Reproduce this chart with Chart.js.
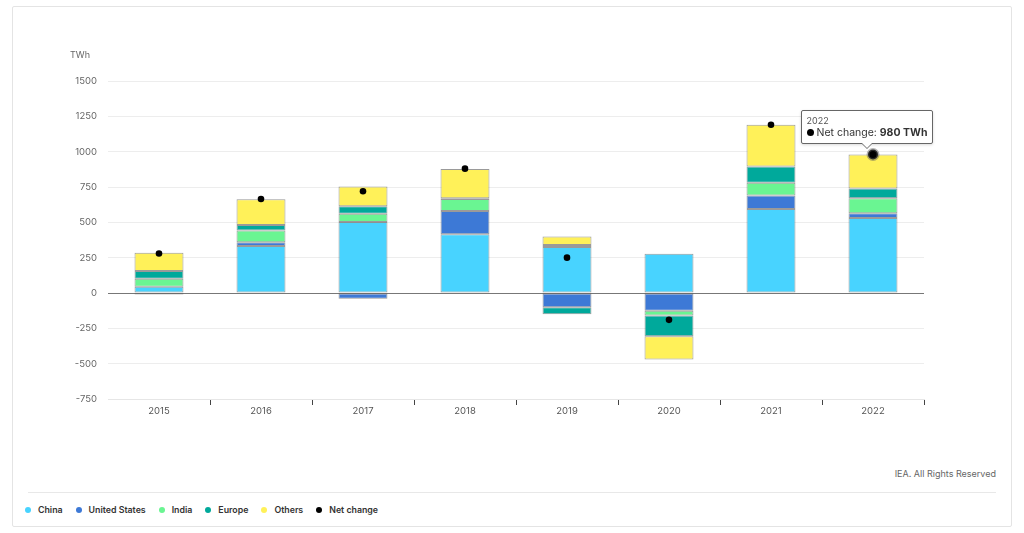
<!DOCTYPE html>
<html>
<head>
<meta charset="utf-8">
<script src="https://cdn.jsdelivr.net/npm/chart.js@4/dist/chart.umd.min.js"></script>
<style>
	body { margin: 0; background: #fff; font-family: Inter, "Open Sans", sans-serif; }
	#frame { position: absolute; left: 12px; top: 6px; width: 998px; height: 519px; border: 1px solid #e4e4e4; border-radius: 2px; }
	#wrap { position: absolute; left: 0; top: 0; width: 1024px; height: 440px; }
	#unit { position: absolute; left: 70px; top: 49px; font-size: 9px; color: #666; }
	#credit { position: absolute; right: 28px; top: 468px; font-size: 9px; color: #666; }
	#sep { position: absolute; left: 28px; top: 492px; width: 968px; height: 1px; background: #e8e8e8; }
	#legend { position: absolute; left: 25px; top: 504px; font-size: 8.8px; font-weight: 600; color: #333; }
	#legend span.item { display: inline-block; margin-right: 13px; }
	#legend i { display: inline-block; width: 6px; height: 6px; border-radius: 50%; margin-right: 7px; vertical-align: 0px; }
	#tip { position: absolute; background: #fff; border: 1px solid #666; border-radius: 2px; padding: 4px 5px 4px 5px; white-space: nowrap; box-shadow: 0 1px 3px rgba(0,0,0,0.15); }
	#tip .t { font-size: 9px; color: #555; line-height: 11px; }
	#tip .b { font-size: 10.5px; color: #333; line-height: 13px; }
	#tip .b i { display: inline-block; width: 7px; height: 7px; border-radius: 50%; background: #000; margin-right: 3px; vertical-align: 0px; }
	#tip:after, #tip:before { content: ""; position: absolute; left: 50%; border: solid transparent; }
	#tip:before { top: 100%; margin-left: -6px; border-width: 6px; border-top-color: #666; }
	#tip:after { top: 100%; margin-left: -5px; border-width: 5px; border-top-color: #fff; }
</style>
</head>
<body>
<div id="frame"></div>
<div id="wrap"><canvas id="chart"></canvas></div>
<div id="unit">TWh</div>
<div id="credit">IEA. All Rights Reserved</div>
<div id="sep"></div>
<div id="legend"></div>
<div id="tip"></div>
<script>
var years = ['2015', '2016', '2017', '2018', '2019', '2020', '2021', '2022'];
var china = [45, 333, 502, 415, 325, 278, 595, 530];
var unitedStates = [-10, 26, -40, 165, -100, -125, 95, 35];
var india = [55, 83, 59, 85, 15, -35, 90, 105];
var europe = [55, 40, 52, 5, -50, -146, 115, 70];
var others = [130, 182, 141, 207, 60, -165, 295, 240];
var netChange = [280, 665, 720, 880, 250, -190, 1190, 980];
var yTicks = [-750, -500, -250, 0, 250, 500, 750, 1000, 1250, 1500];

var names = ['China', 'United States', 'India', 'Europe', 'Others', 'Net change'];
var colors = ['#48d3ff', '#3d79d6', '#6af592', '#00a99b', '#fff159', '#000000'];

function barSet(i, data) {
	return {
		type: 'bar',
		label: names[i],
		data: data,
		stack: 'regions',
		backgroundColor: colors[i],
		borderColor: 'rgba(30, 30, 30, 0.45)',
		borderWidth: 1,
		borderSkipped: false,
		categoryPercentage: 1,
		barPercentage: 0.48,
		order: 2
	};
}

var chart = new Chart(document.getElementById('chart'), {
	data: {
		labels: years,
		datasets: [
			barSet(0, china),
			barSet(1, unitedStates),
			barSet(2, india),
			barSet(3, europe),
			barSet(4, others),
			{
				type: 'line',
				label: names[5],
				data: netChange,
				stack: 'net',
				showLine: false,
				pointRadius: 3.3,
				pointBackgroundColor: '#000',
				pointBorderWidth: 0,
				pointHoverRadius: 5,
				pointHoverBackgroundColor: '#000',
				pointHoverBorderColor: 'rgba(90, 90, 90, 0.45)',
				pointHoverBorderWidth: 3,
				order: 1
			}
		]
	},
	options: {
		responsive: true,
		maintainAspectRatio: false,
		animation: false,
		events: [],
		layout: { padding: { left: 48, right: 100, top: 81, bottom: 11 } },
		plugins: {
			legend: { display: false },
			tooltip: { enabled: false }
		},
		scales: {
			x: {
				stacked: true,
				afterFit: function(scale) { scale.height = 30; },
				grid: {
					offset: true,
					drawOnChartArea: false,
					drawTicks: true,
					tickLength: 6,
					tickColor: function(ctx) { return ctx.index === 0 ? 'rgba(0,0,0,0)' : '#444'; }
				},
				border: { color: '#e6e6e6' },
				ticks: { color: '#555', font: { size: 9.5, family: 'Inter' }, padding: 0 }
			},
			y: {
				stacked: true,
				min: -750,
				max: 1500,
				afterFit: function(scale) { scale.width = 60; },
				afterBuildTicks: function(scale) {
					scale.ticks = yTicks.map(function(v) { return { value: v }; });
				},
				grid: {
					drawTicks: false,
					color: function(ctx) { return ctx.tick && ctx.tick.value === 0 ? '#777' : '#ededed'; }
				},
				border: { display: false },
				ticks: {
					color: '#666',
					font: { size: 9.5, family: 'Inter' },
					padding: 11,
					callback: function(v) { return String(v); }
				}
			}
		}
	}
});

// legend from the same names / colours
var legend = document.getElementById('legend');
names.forEach(function(n, i) {
	legend.innerHTML += '<span class="item"><i style="background:' + colors[i] + '"></i>' + n + '</span>';
});

// hovered point on 2022 with its tooltip
var last = years.length - 1;
chart.setActiveElements([{ datasetIndex: 5, index: last }]);
chart.update();
var pt = chart.getDatasetMeta(5).data[last];
var tip = document.getElementById('tip');
tip.innerHTML = '<div class="t">' + years[last] + '</div><div class="b"><i></i>Net change: <b>' + netChange[last] + ' TWh</b></div>';
tip.style.left = (pt.x - tip.offsetWidth / 2 - 6) + 'px';
tip.style.top = (pt.y - tip.offsetHeight - 10) + 'px';
</script>
</body>
</html>
